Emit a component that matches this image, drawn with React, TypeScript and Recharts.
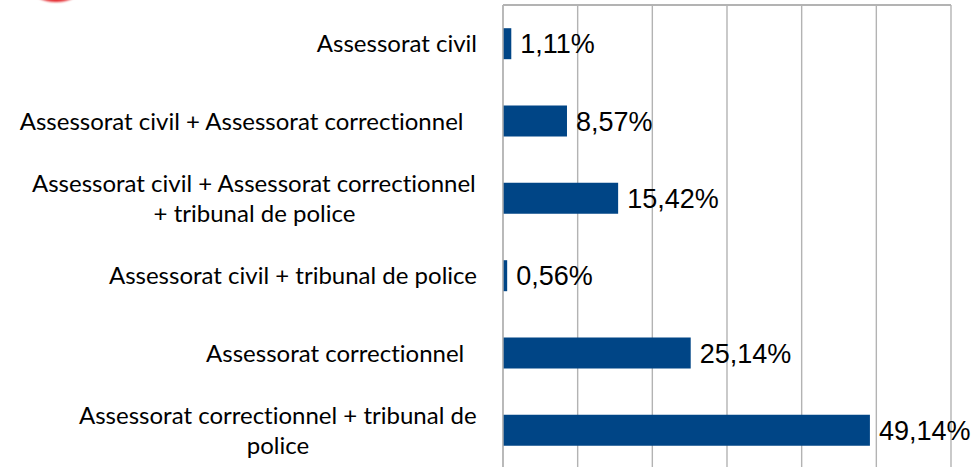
import React from 'react'
import { BarChart, Bar, XAxis, YAxis, CartesianGrid, LabelList, ReferenceLine } from 'recharts'

// category labels (\n = forced line break, trailing spaces kept as in the source)
const categories = [
  'Assessorat civil',
  'Assessorat civil + Assessorat correctionnel  ',
  'Assessorat civil + Assessorat correctionnel\n+ tribunal de police',
  'Assessorat civil + tribunal de police',
  'Assessorat correctionnel  ',
  'Assessorat correctionnel + tribunal de\npolice',
]
const shares = [1.11, 8.57, 15.42, 0.56, 25.14, 49.14]
const xTicks = [0, 10, 20, 30, 40, 50, 60]

const data = categories.map((name, i) => ({ name, share: shares[i] }))

const BAR_COLOR = '#004586'
const GRID_COLOR = '#b3b3b3'
const LABEL_FONT = 'Lato'
const LABEL_SIZE = 24
const LINE_HEIGHT = 30

let ctx: CanvasRenderingContext2D | null = null
function textWidth(s: string) {
  if (!ctx) ctx = document.createElement('canvas').getContext('2d')
  if (!ctx) return s.length * LABEL_SIZE * 0.45
  ctx.font = `${LABEL_SIZE}px ${LABEL_FONT}`
  return ctx.measureText(s).width
}

function CategoryTick(props: any) {
  const { x, y, payload } = props
  const lines = String(payload.value).split('\n')
  const widths = lines.map(textWidth)
  const block = Math.max(...widths)
  const center = x - block / 2
  return (
    <g>
      {lines.map((line, i) => (
        <text
          key={i}
          x={center - widths[i] / 2}
          y={y + (i - (lines.length - 1) / 2) * LINE_HEIGHT}
          dy="0.36em"
          textAnchor="start"
          fill="#000"
          style={{ fontFamily: LABEL_FONT, fontSize: LABEL_SIZE, whiteSpace: 'pre', fontVariantLigatures: 'none' }}
        >
          {line}
        </text>
      ))}
    </g>
  )
}

const NoTick = () => <g />

const fmt = (v: any) => `${Number(v).toFixed(2).replace('.', ',')}%`

export default function App() {
  return (
    <div style={{ position: 'absolute', left: 0, top: 0, width: 977, height: 467, overflow: 'hidden', background: '#fff' }}>
      {/* bit of a red logo cut off at the top edge */}
      <div style={{ position: 'absolute', left: 32, top: -24, width: 48, height: 26, borderRadius: '50%', background: '#e3262b', filter: 'blur(1px)' }} />
      <BarChart
        width={977}
        height={480}
        data={data}
        layout="vertical"
        margin={{ top: 0, right: 26, bottom: 11, left: 0 }}
        barCategoryGap="30%"
      >
        <CartesianGrid horizontal={false} stroke={GRID_COLOR} strokeWidth={1.4} />
        <XAxis
          type="number"
          orientation="top"
          domain={[0, 60]}
          ticks={xTicks}
          height={5}
          tick={<NoTick />}
          tickLine={false}
          axisLine={false}
        />
        <YAxis
          type="category"
          dataKey="name"
          width={503}
          tickLine={false}
          tickMargin={20}
          axisLine={{ stroke: GRID_COLOR, strokeWidth: 1.4 }}
          tick={<CategoryTick />}
          interval={0}
        />
        {/* frame line along the top of the plot area */}
        <ReferenceLine y={categories[0]} position="start" stroke={GRID_COLOR} strokeWidth={2} ifOverflow="extendDomain" />
        <Bar dataKey="share" fill={BAR_COLOR} isAnimationActive={false}>
          <LabelList
            dataKey="share"
            position="right"
            offset={9}
            formatter={fmt}
            style={{ fontFamily: 'Liberation Sans, Arial', fontSize: 27, fill: '#000' }}
          />
        </Bar>
      </BarChart>
    </div>
  )
}
